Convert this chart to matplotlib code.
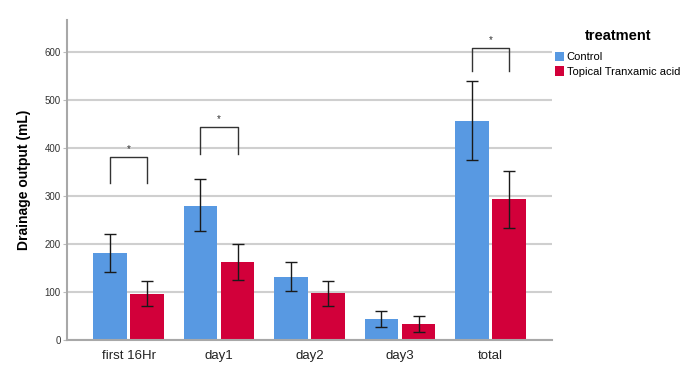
import matplotlib.pyplot as plt
import numpy as np

plt.rcParams["font.family"] = ["Liberation Sans", "DejaVu Sans"]

categories = ["first 16Hr", "day1", "day2", "day3", "total"]
groups = ["Control", "Topical Tranxamic acid"]
control_mean = [181, 280, 131, 43, 456]
control_low = [142, 227, 102, 28, 375]
control_high = [221, 335, 162, 60, 540]
txa_mean = [96, 163, 97, 33, 293]
txa_low = [71, 126, 71, 17, 234]
txa_high = [123, 200, 124, 49, 353]

# significance brackets: category index, top, leg bottom
sig_idx = [0, 1, 4]
sig_top = [381, 444, 608]
sig_bottom = [327, 387, 561]

blue = "#5899e2"
red = "#d2003a"
grid_c = "#cfcfcf"

fig = plt.figure(figsize=(6.94, 3.70), dpi=100)
ax = fig.add_axes((67 / 694, 30 / 370, 485 / 694, 320 / 370))

x = np.arange(len(categories))
w = 0.37
off = 0.205

ax.bar(x - off, control_mean, width=w, color=blue, label=groups[0], zorder=2)
ax.bar(x + off, txa_mean, width=w, color=red, label=groups[1], zorder=2)

cm = np.array(control_mean)
tm = np.array(txa_mean)
ax.errorbar(x - off, cm, yerr=[cm - np.array(control_low), np.array(control_high) - cm],
            fmt="none", ecolor="#1a1a1a", elinewidth=1.0, capsize=4, capthick=1.0, zorder=3)
ax.errorbar(x + off, tm, yerr=[tm - np.array(txa_low), np.array(txa_high) - tm],
            fmt="none", ecolor="#1a1a1a", elinewidth=1.0, capsize=4, capthick=1.0, zorder=3)

for i, top, bot in zip(sig_idx, sig_top, sig_bottom):
    x0, x1 = i - off, i + off
    ax.plot([x0, x0, x1, x1], [bot, top, top, bot], color="#333333", lw=1.0, zorder=3)
    ax.text(i, top + 6, "*", ha="center", va="bottom", fontsize=7, color="#333333")

ax.set_xlim(-0.68, 4.68)
ax.set_ylim(0, 667)
ax.set_yticks(range(0, 700, 100))
ax.set_xticks(x)
ax.set_xticklabels(categories, fontsize=9.5, color="#222222")
ax.tick_params(axis="x", length=0, pad=7)
ax.tick_params(axis="y", length=3, color="#bbbbbb", labelsize=7, labelcolor="#333333", pad=1.5)
ax.yaxis.grid(True, color=grid_c, lw=1.5, zorder=0)
ax.set_axisbelow(True)
for s in ["top", "right"]:
    ax.spines[s].set_visible(False)
for s in ["left", "bottom"]:
    ax.spines[s].set_color("#a8a8a8")
    ax.spines[s].set_linewidth(1.5)

ax.set_ylabel("Drainage output (mL)", fontsize=10, fontweight="bold", labelpad=10)

leg = ax.legend(loc="upper left", bbox_to_anchor=(0.998, 0.985), frameon=False,
                title="treatment", fontsize=8, handlelength=0.75, handleheight=0.9,
                handletextpad=0.25, labelspacing=0.4, borderaxespad=0.0)
leg.get_title().set_fontweight("bold")
leg.get_title().set_fontsize(10.5)
leg._legend_box.sep = 6

fig.savefig("out.png", dpi=100)
